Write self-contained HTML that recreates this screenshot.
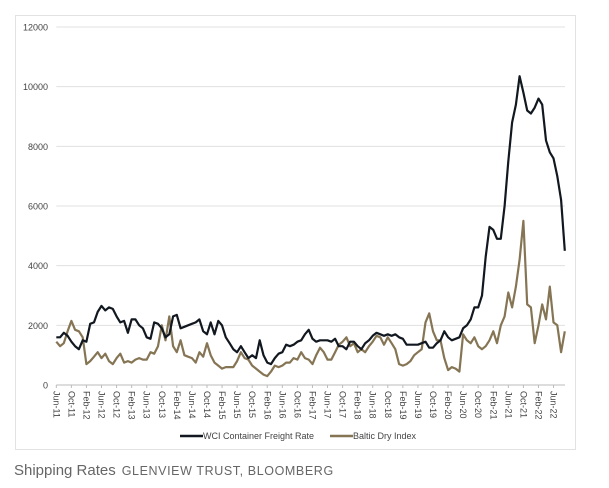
<!DOCTYPE html>
<html><head><meta charset="utf-8"><style>
body{margin:0;background:#fff;width:609px;height:488px;overflow:hidden;font-family:"Liberation Sans",sans-serif;}
#box{position:absolute;left:15px;top:15px;width:561px;height:435px;border:1px solid #e2e2e2;box-sizing:border-box;}
#cap{position:absolute;left:14px;top:462px;color:#666;white-space:nowrap;}
#cap .t{font-size:15px;}
#cap .s{font-size:12.5px;letter-spacing:0.6px;margin-left:6px;}
</style></head><body>
<div id="box"></div>
<svg id="chart" width="609" height="488" style="position:absolute;left:0;top:0"></svg>
<div id="cap"><span class="t">Shipping Rates</span><span class="s">GLENVIEW TRUST, BLOOMBERG</span></div>
<script>
const yTicks=[0,2000,4000,6000,8000,10000,12000];
const xLabels=["Jun-11","Oct-11","Feb-12","Jun-12","Oct-12","Feb-13","Jun-13","Oct-13","Feb-14","Jun-14","Oct-14","Feb-15","Jun-15","Oct-15","Feb-16","Jun-16","Oct-16","Feb-17","Jun-17","Oct-17","Feb-18","Jun-18","Oct-18","Feb-19","Jun-19","Oct-19","Feb-20","Jun-20","Oct-20","Feb-21","Jun-21","Oct-21","Feb-22","Jun-22"];
const wci=[1600,1600,1750,1650,1450,1300,1200,1500,1450,2050,2100,2450,2650,2500,2600,2550,2300,2100,2150,1750,2200,2200,2000,1900,1600,1550,2100,2050,1900,1600,1700,2300,2350,1900,1950,2000,2050,2100,2200,1800,1700,2100,1700,2150,2000,1600,1400,1200,1100,1300,1100,900,1000,900,1500,1000,750,700,900,1050,1100,1350,1300,1350,1450,1500,1700,1850,1550,1450,1500,1500,1500,1450,1550,1300,1300,1200,1450,1450,1300,1200,1400,1500,1650,1750,1700,1650,1700,1650,1700,1600,1550,1350,1350,1350,1350,1400,1450,1250,1250,1400,1500,1800,1600,1500,1550,1600,1900,2000,2200,2600,2600,3000,4300,5300,5200,4900,4900,6000,7500,8800,9400,10350,9800,9200,9100,9300,9600,9400,8200,7800,7600,7000,6200,4500];
const bdi=[1450,1300,1400,1800,2150,1850,1800,1600,700,800,950,1100,900,1050,800,700,900,1050,750,800,750,850,900,850,850,1100,1050,1300,2000,1500,2300,1300,1100,1500,1000,950,900,750,1100,950,1400,1000,750,650,550,600,600,600,800,1100,900,850,650,550,450,350,300,450,650,600,650,750,750,900,850,1100,900,850,700,1000,1250,1100,850,850,1100,1350,1450,1600,1300,1400,1100,1200,1100,1300,1450,1650,1600,1350,1600,1400,1200,700,650,700,800,1000,1100,1200,2100,2400,1800,1500,1500,900,500,600,550,450,1700,1500,1400,1600,1300,1200,1300,1500,1800,1400,2000,2300,3100,2600,3300,4200,5500,2700,2600,1400,2000,2700,2200,3300,2100,2000,1100,1800];
const NS='http://www.w3.org/2000/svg';
const svg=document.getElementById('chart');
const x0=56.3,pxPerMonth=3.767,yTop=27,yBot=385,yMax=12000;
function xs(i){return x0+i*pxPerMonth;}
function ys(v){return yBot-(v/yMax)*(yBot-yTop);}
function mk(t,a){const e=document.createElementNS(NS,t);for(const k in a)e.setAttribute(k,a[k]);svg.appendChild(e);return e;}
yTicks.forEach(v=>{
  if(v>0){const g=mk('line',{x1:x0,x2:565,y1:ys(v),y2:ys(v),stroke:'#e0e0e0','stroke-width':1});
  
  }
  const t=mk('text',{x:48,y:ys(v)+3.5,'text-anchor':'end','font-size':'9','fill':'#444','font-family':'Liberation Sans, sans-serif'});
  t.textContent=v;
  
  
});
const ax=mk('line',{x1:x0,x2:565,y1:yBot,y2:yBot,stroke:'#bbb','stroke-width':1});


xLabels.forEach((l,k)=>{
  const x=xs(k*4);
  const tk=mk('line',{x1:x,x2:x,y1:yBot,y2:yBot+3,stroke:'#bbb'});
  
  
  const t=mk('text',{x:0,y:0,'font-size':'9','fill':'#444','font-family':'Liberation Sans, sans-serif',transform:'translate('+(x-3)+','+(yBot+6)+') rotate(90)'});
  t.textContent=l;
  
  
});
function line(data,color,name){
  const d=data.map((v,i)=>(i?'L':'M')+xs(i).toFixed(1)+','+ys(v).toFixed(1)).join('');
  const p=mk('path',{d:d,fill:'none',stroke:color,'stroke-width':2.2,'stroke-linejoin':'round'});
  
  
}
line(bdi,'#857554','baltic-dry-index-line');
line(wci,'#121820','wci-freight-rate-line');
const leg=[[180,'#121820','WCI Container Freight Rate'],[330,'#857554','Baltic Dry Index']];
leg.forEach(([x,c,l])=>{
  const s=mk('line',{x1:x,x2:x+23,y1:436,y2:436,stroke:c,'stroke-width':2.5});
  
  
  const t=mk('text',{x:x+23,y:439,'font-size':'9','fill':'#444','font-family':'Liberation Sans, sans-serif'});
  t.textContent=l;
  
  
});
</script>
</body></html>
